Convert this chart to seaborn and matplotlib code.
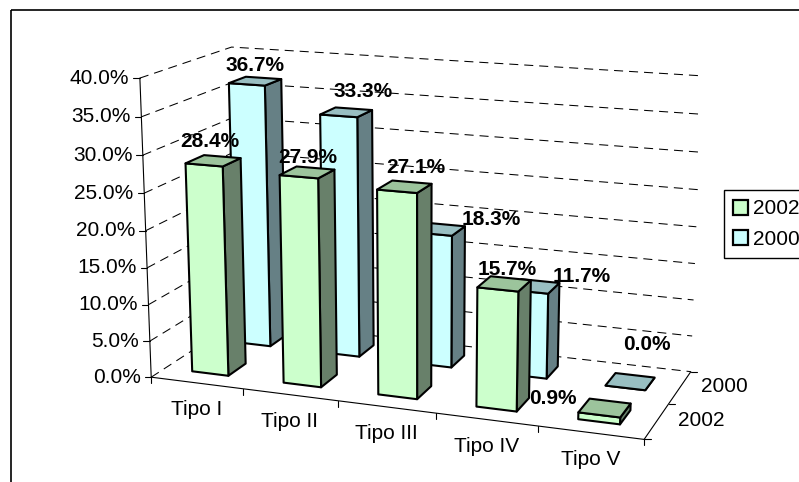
import numpy as np
import matplotlib
matplotlib.use("Agg")
import matplotlib.pyplot as plt
import seaborn as sns
from matplotlib.patches import Polygon, Rectangle

sns.set_theme(style="white")
plt.rcParams['font.family'] = ['Liberation Sans', 'DejaVu Sans']
plt.rcParams['text.color'] = 'black'

categories = ["Tipo I", "Tipo II", "Tipo III", "Tipo IV", "Tipo V"]
series_names = ["2002", "2000"]
values_2002 = [28.4, 27.9, 27.1, 15.7, 0.9]
values_2000 = [36.7, 33.3, 18.3, 11.7, 0.0]
value_ticks = [0, 5, 10, 15, 20, 25, 30, 35, 40]

FRONT = {"2002": "#CCFFCC", "2000": "#CCFFFF"}
TOP = {"2002": "#9CC49C", "2000": "#99BFC2"}
SIDE = {"2002": "#68806A", "2000": "#668085"}
LABEL_SHIFT = {
    "2002": [(-3, -19), (1, -15), (11, -19), (3, -14), (-52, -9)],
    "2000": [(0, -16), (17, -21), (52, -10), (47, -10), (17, -37)],
}
FS = 15
BAR_W = 0.4
BAR_D = 0.4

# Perspective camera of the 3-D box: (category, series depth, value) -> picture pixels
box = [(0, 0, 0), (5, 0, 0), (5, 2, 0), (0, 2, 0), (0, 0, 40), (0, 2, 40), (5, 2, 40)]
pix = [(151.7, 376.7), (644, 440), (691, 371), (238, 321), (139.5, 78), (232, 47), (702, 76)]
A, b = [], []
for (x, y, z), (u, v) in zip(box, pix):
    A.append([x, y, z, 1, 0, 0, 0, 0, -u * x, -u * y, -u * z]); b.append(u)
    A.append([0, 0, 0, 0, x, y, z, 1, -v * x, -v * y, -v * z]); b.append(v)
cam = np.append(np.linalg.lstsq(np.array(A, float), np.array(b, float), rcond=None)[0], 1).reshape(3, 4)


def P(x, y, z):
    q = cam @ np.array([x, y, z, 1.0])
    return q[:2] / q[2]


fig = plt.figure(figsize=(7.99, 4.82), dpi=100, facecolor="white")
ax = fig.add_axes([0, 0, 1, 1])
ax.set_xlim(0, 799)
ax.set_ylim(482, 0)
ax.axis("off")

# chart frame
ax.add_patch(Rectangle((10.7, 10.3), 900, 600, fill=False, ec="black", lw=1.2))

# dashed walls
lw_g = 0.75
dash = (0, (6.5 / lw_g, 4.3 / lw_g))
for v in value_ticks:
    pts = np.array([P(0, 0, v), P(0, 2, v), P(5, 2, v)])
    ax.plot(pts[:, 0], pts[:, 1], color="black", lw=lw_g, ls=dash, zorder=1)

# solid axes
lw_a = 0.8
for a_, b_ in [((0, 0, 0), (0, 0, 40)), ((0, 0, 0), (5, 0, 0)), ((5, 0, 0), (5, 2, 0))]:
    p, q = P(*a_), P(*b_)
    ax.plot([p[0], q[0]], [p[1], q[1]], color="black", lw=lw_a, zorder=1.5)

# value axis ticks and labels
for v in value_ticks:
    p = P(0, 0, v)
    ax.plot([p[0] - 6.5, p[0]], [p[1], p[1]], color="black", lw=lw_a, zorder=1.5)
    ax.text(p[0] - 10.5, p[1], f"{v:.1f}%", fontsize=FS, ha="right", va="center")

# category ticks and labels
for i in range(len(categories) + 1):
    p = P(i, 0, 0)
    ax.plot([p[0], p[0]], [p[1], p[1] + 6], color="black", lw=lw_a, zorder=1.5)
for i, name in enumerate(categories):
    p = P(i + 0.5, 0, 0)
    ax.text(p[0], p[1] + 27, name, fontsize=FS, ha="center", va="center")

# depth ticks and labels
for k in range(3):
    p = P(5, k, 0)
    ax.plot([p[0], p[0] + 6.5], [p[1], p[1]], color="black", lw=lw_a, zorder=1.5)
for k, name in enumerate(series_names):
    p = P(5, k + 0.5, 0)
    ax.text(p[0] + 21, p[1] - 1, name, fontsize=FS, ha="left", va="center")


def bar(i, k, h, name):
    x0, x1 = i + 0.5 - BAR_W / 2, i + 0.5 + BAR_W / 2
    y0, y1 = k + 0.5 - BAR_D / 2, k + 0.5 + BAR_D / 2
    faces = [
        ([(x1, y0, 0), (x1, y1, 0), (x1, y1, h), (x1, y0, h)], SIDE[name]),
        ([(x0, y0, 0), (x1, y0, 0), (x1, y0, h), (x0, y0, h)], FRONT[name]),
        ([(x0, y0, h), (x1, y0, h), (x1, y1, h), (x0, y1, h)], TOP[name]),
    ]
    for corners, col in faces:
        ax.add_patch(Polygon([P(*c) for c in corners], closed=True, fc=col, ec="black",
                             lw=1.5, joinstyle="round", zorder=2 + 0.1 * (1 - k) + 0.01 * i))


for k, (name, vals) in reversed(list(enumerate(zip(series_names, [values_2002, values_2000])))):
    for i, h in enumerate(vals):
        bar(i, k, h, name)
        c = P(i + 0.5, k + 0.5, h)
        dx, dy = LABEL_SHIFT[name][i]
        ax.text(c[0] + dx, c[1] + dy, f"{h:.1f}%", fontsize=FS, fontweight="bold",
                ha="center", va="center", zorder=5)

handles = [Rectangle((0, 0), 1, 1, fc=FRONT[n], ec="black", lw=1.6) for n in series_names]
ax.legend(handles, series_names, loc="upper left", bbox_to_anchor=(724 / 799, 1 - 190 / 482),
          borderaxespad=0, fontsize=FS, frameon=True, fancybox=False, framealpha=1,
          edgecolor="black", handlelength=0.72, handleheight=0.72, handletextpad=0.24,
          labelspacing=0.55, borderpad=0.45)

fig.savefig("out.png", dpi=100)
